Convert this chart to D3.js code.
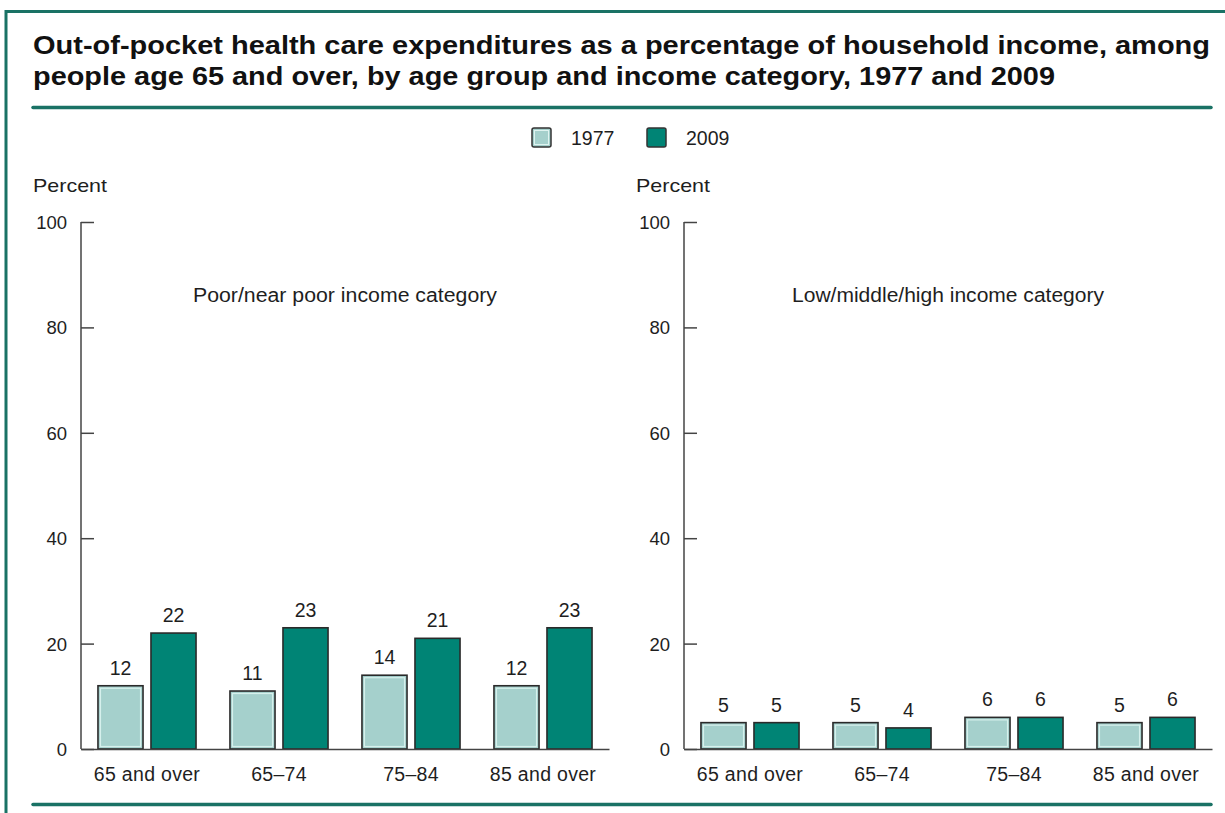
<!DOCTYPE html>
<html>
<head>
<meta charset="utf-8">
<script src="https://cdn.jsdelivr.net/npm/d3@7"></script>
<style>
  html, body { margin: 0; padding: 0; background: #fff; }
  svg { display: block; font-family: "Liberation Sans", Arial, sans-serif; }
</style>
</head>
<body>
<svg id="chart" width="1225" height="813"></svg>
<script>
// Age groups along the x axis
const ageGroups = ["65 and over", "65\u201374", "75\u201384", "85 and over"];
const years = ["1977", "2009"];

// Percent of household income spent out of pocket
const poor1977 = [12, 11, 14, 12];
const poor2009 = [22, 23, 21, 23];
const higher1977 = [5, 5, 6, 5];
const higher2009 = [5, 4, 6, 6];

const yTicks = [0, 20, 40, 60, 80, 100];

const panels = [
  { title: "Poor/near poor income category", titleWidth: 304, s1977: poor1977, s2009: poor2009, x0: 81, x1: 609 },
  { title: "Low/middle/high income category", titleWidth: 312, s1977: higher1977, s2009: higher2009, x0: 684, x1: 1212 }
];

const colors = { "1977": "#a5d0cc", "2009": "#008475" };
const frameColor = "#1a7265";
const textColor = "#1e1e1e";

const svg = d3.select("#chart");

// Outer frame: left and top rules
svg.append("line").attr("x1", 6).attr("x2", 6).attr("y1", 10).attr("y2", 813)
  .attr("stroke", frameColor).attr("stroke-width", 3);
svg.append("line").attr("x1", 5).attr("x2", 1225).attr("y1", 11.5).attr("y2", 11.5)
  .attr("stroke", frameColor).attr("stroke-width", 3);

// Title, two lines spread to the full width of the rules
const title = svg.append("text").attr("fill", "#111")
  .attr("font-size", 26.5).attr("font-weight", "bold");
title.append("tspan").attr("x", 33).attr("y", 54)
  .attr("textLength", 1177).attr("lengthAdjust", "spacingAndGlyphs")
  .text("Out-of-pocket health care expenditures as a percentage of household income, among");
title.append("tspan").attr("x", 33).attr("y", 85)
  .attr("textLength", 1022).attr("lengthAdjust", "spacingAndGlyphs")
  .text("people age 65 and over, by age group and income category, 1977 and 2009");

// Rules under the title and at the foot
[107.5, 804.5].forEach(yy => {
  svg.append("line").attr("x1", 33).attr("x2", 1211).attr("y1", yy).attr("y2", yy)
    .attr("stroke", frameColor).attr("stroke-width", 3.5).attr("stroke-linecap", "round");
});

// Legend
const legendX = { "1977": 532, "2009": 647 };
years.forEach(yr => {
  const g = svg.append("g").attr("transform", `translate(${legendX[yr]},128)`);
  g.append("rect").attr("width", 19).attr("height", 19).attr("rx", 2)
    .attr("fill", colors[yr]).attr("stroke", "#333").attr("stroke-width", 1.5);
  if (yr === "1977") {
    g.append("rect").attr("x", 2.5).attr("y", 2.5).attr("width", 14).attr("height", 14)
      .attr("fill", "none").attr("stroke", "#dff3f0").attr("stroke-width", 1);
  }
  g.append("text").attr("x", 39).attr("y", 17).attr("font-size", 19.5)
    .attr("fill", textColor).text(yr);
});

// Shared vertical scale
const y = d3.scaleLinear().domain([0, 100]).range([749, 222]);

panels.forEach(p => {
  const g = svg.append("g");

  const x = d3.scaleBand().domain(ageGroups).range([p.x0, p.x1]);
  const xSub = d3.scaleBand().domain(years).range([0, x.bandwidth()])
    .paddingInner(0.15).paddingOuter(0.32);

  // "Percent" unit label
  g.append("text").attr("x", p.x0 - 48).attr("y", 192).attr("font-size", 19)
    .attr("textLength", 74).attr("lengthAdjust", "spacingAndGlyphs")
    .attr("fill", textColor).text("Percent");

  // y axis with inward ticks
  const yAxis = d3.axisRight(y).tickValues(yTicks).tickSize(13).tickFormat("");
  const ya = g.append("g").attr("transform", `translate(${p.x0},0)`).call(yAxis);
  ya.select(".domain").attr("stroke", "#444").attr("stroke-width", 1.5)
    .attr("d", `M0,${y(100)}V${y(0)}`);
  ya.selectAll(".tick line").attr("stroke", "#444").attr("stroke-width", 1.5);

  g.selectAll(".ylab").data(yTicks).join("text")
    .attr("class", "ylab")
    .attr("x", p.x0 - 14).attr("y", d => y(d) + 7)
    .attr("text-anchor", "end").attr("font-size", 18.5).attr("fill", textColor)
    .text(d => d);

  // Panel subtitle
  g.append("text").attr("x", (p.x0 + p.x1) / 2 - p.titleWidth / 2).attr("y", 302)
    .attr("font-size", 19.5)
    .attr("textLength", p.titleWidth).attr("lengthAdjust", "spacingAndGlyphs")
    .attr("fill", textColor).text(p.title);

  // Bars
  const rows = ageGroups.map((a, i) => ({ group: a, values: [
    { year: "1977", v: p.s1977[i] }, { year: "2009", v: p.s2009[i] }
  ]}));

  const grp = g.selectAll(".grp").data(rows).join("g")
    .attr("class", "grp")
    .attr("transform", d => `translate(${x(d.group)},0)`);

  grp.selectAll("rect.bar").data(d => d.values).join("rect")
    .attr("class", "bar")
    .attr("x", d => xSub(d.year))
    .attr("y", d => y(d.v))
    .attr("width", xSub.bandwidth())
    .attr("height", d => y(0) - y(d.v))
    .attr("fill", d => colors[d.year])
    .attr("stroke", "#2a2a2a").attr("stroke-width", 1.6);

  // Inner highlight on the light bars
  grp.selectAll("rect.hl").data(d => d.values.filter(v => v.year === "1977")).join("rect")
    .attr("class", "hl")
    .attr("x", d => xSub(d.year) + 2.5)
    .attr("y", d => y(d.v) + 2.5)
    .attr("width", xSub.bandwidth() - 5)
    .attr("height", d => Math.max(0, y(0) - y(d.v) - 5))
    .attr("fill", "none").attr("stroke", "#d6f0ec").attr("stroke-width", 1.2);

  grp.selectAll("text.val").data(d => d.values).join("text")
    .attr("class", "val")
    .attr("x", d => xSub(d.year) + xSub.bandwidth() / 2)
    .attr("y", d => y(d.v) - 11)
    .attr("text-anchor", "middle").attr("font-size", 19.5).attr("fill", textColor)
    .text(d => d.v);

  // x axis baseline and category labels
  const xAxis = d3.axisBottom(x).tickSize(0).tickPadding(18);
  const xa = g.append("g").attr("transform", `translate(0,${y(0)})`).call(xAxis);
  xa.select(".domain").attr("stroke", "#444").attr("stroke-width", 1.5);
  xa.selectAll(".tick text").attr("font-size", 19.5).attr("letter-spacing", 0.3)
    .attr("fill", textColor).attr("font-family", "Liberation Sans, Arial, sans-serif");
});
</script>
</body>
</html>
